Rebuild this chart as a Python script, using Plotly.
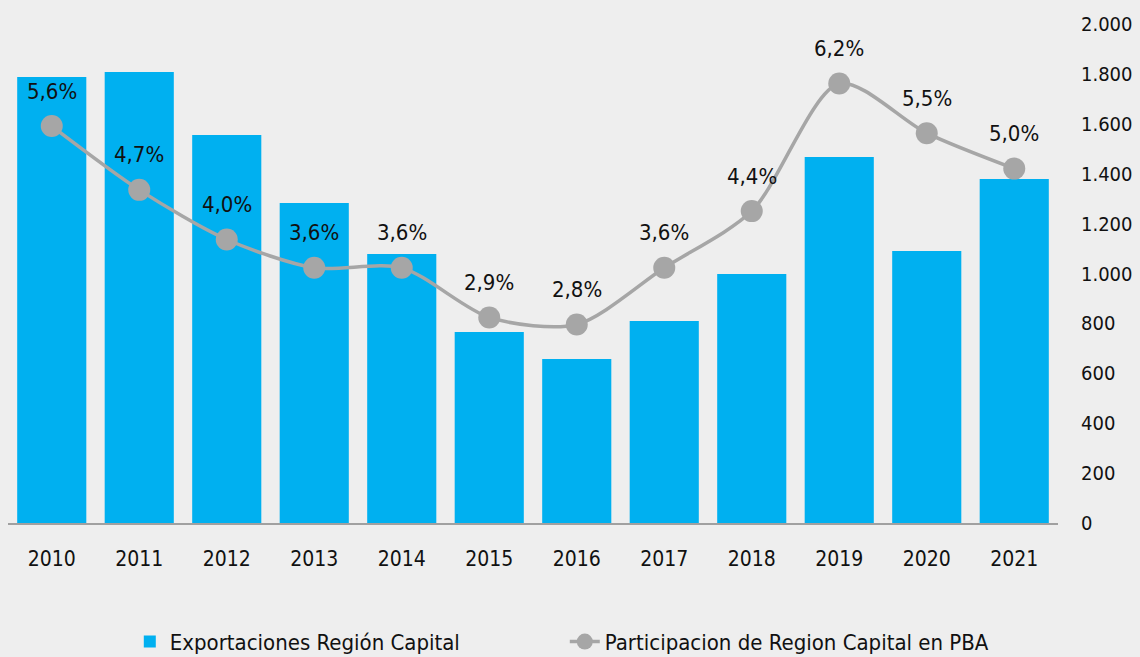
import plotly.graph_objects as go

years = ["2010", "2011", "2012", "2013", "2014", "2015", "2016", "2017", "2018", "2019", "2020", "2021"]
exportaciones = [1788, 1808, 1555, 1283, 1078, 766, 657, 810, 998, 1467, 1090, 1379]
participacion = [5.6, 4.7, 4.0, 3.6, 3.6, 2.9, 2.8, 3.6, 4.4, 6.2, 5.5, 5.0]

FONT = "DejaVu Sans Condensed, sans-serif"
BLUE = "#00b0f0"
GRAY = "#a6a6a6"

fig = go.Figure()
fig.add_trace(go.Bar(
    x=years, y=exportaciones, name="Exportaciones Región Capital",
    marker=dict(color=BLUE, line=dict(width=0)),
    yaxis="y",
))
fig.add_trace(go.Scatter(
    x=years, y=participacion, name="Participacion de Region Capital en PBA",
    mode="lines+markers",
    line=dict(color=GRAY, width=3.5, shape="spline", smoothing=0.8),
    marker=dict(color=GRAY, size=22),
    yaxis="y2",
))
for i, v in enumerate(participacion):
    fig.add_annotation(
        x=i, y=v, yref="y2", xref="x",
        text=f"{v:.1f}%".replace(".", ","),
        showarrow=False, yshift=35,
        font=dict(family=FONT, size=22, color="#111111"),
    )

fig.update_layout(
    width=1140, height=657,
    paper_bgcolor="#eeeeee", plot_bgcolor="#eeeeee",
    margin=dict(l=8, r=82, t=24, b=134, autoexpand=False),
    separators=",.",
    bargap=0.21,
    font=dict(family=FONT, size=21, color="#111111"),
    showlegend=True,
    legend=dict(orientation="h", x=0.116, xanchor="left", y=-0.238, yanchor="middle",
                font=dict(family=FONT, size=22, color="#111111"),
                bgcolor="rgba(0,0,0,0)", entrywidth=390, entrywidthmode="pixels"),
    xaxis=dict(type="category", range=[-0.5, len(years) - 0.5], showline=True,
               linecolor="#a0a0a0", linewidth=1.5, showgrid=False, automargin=False,
               ticks="", ticklabelstandoff=16, zeroline=False),
    yaxis=dict(side="right", range=[0, 2000], dtick=200, tickformat=",d",
               showgrid=False, zeroline=False, showline=False, ticks="", automargin=False,
               ticklabelstandoff=22, tickfont=dict(family=FONT, size=20)),
    yaxis2=dict(overlaying="y", range=[0, 7.04], visible=False, showgrid=False),
)

fig.write_html("out.html", config={"displayModeBar": False},
               post_script="document.body.style.margin='0';")
